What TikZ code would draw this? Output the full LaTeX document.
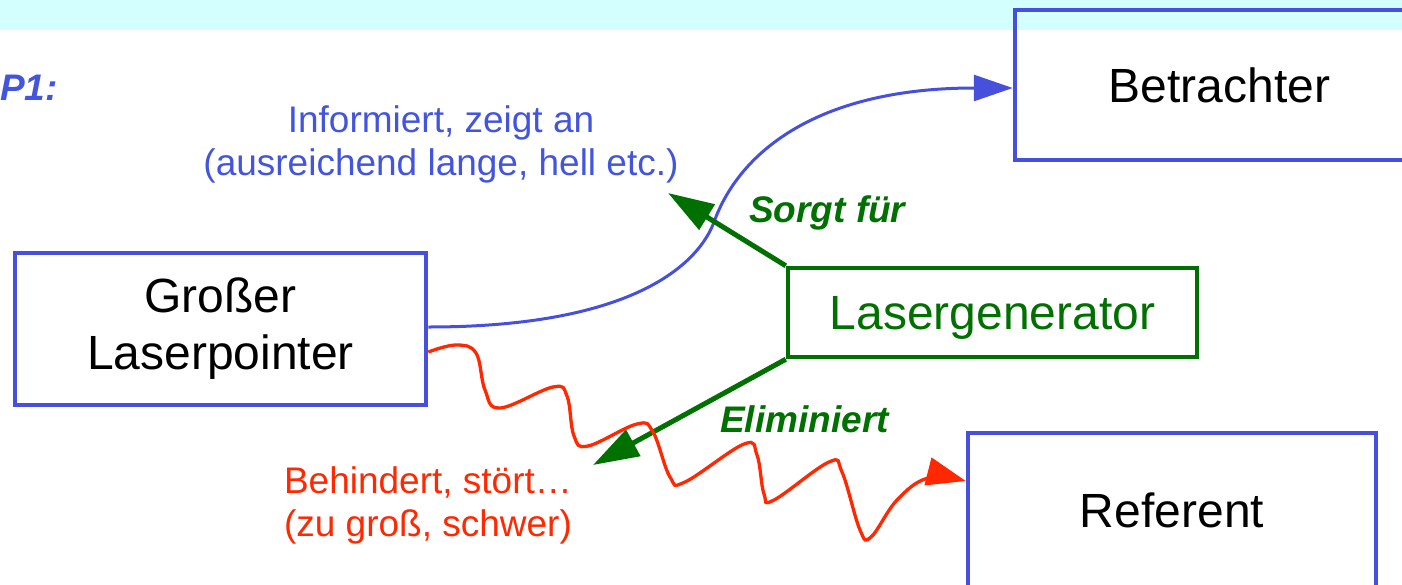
\documentclass[tikz,border=0pt]{standalone}
\usepackage{fontspec}
\setmainfont{Liberation Sans}
\usetikzlibrary{arrows.meta,calc}
\definecolor{bandcyan}{RGB}{212,255,255}
\definecolor{boxblue}{RGB}{70,80,220}
\definecolor{txtblue}{RGB}{68,85,221}
\definecolor{dkgreen}{RGB}{0,112,0}
\definecolor{wavered}{RGB}{255,40,0}
\begin{document}
\begin{tikzpicture}[x=1pt,y=-1pt,
  bluebox/.style={draw=boxblue,line width=4.5pt,inner sep=0pt,align=center,font=\fontsize{48}{57}\selectfont},
  greenbox/.style={draw=dkgreen,line width=4.5pt,inner sep=0pt,text=dkgreen,text depth=0pt,font=\fontsize{48}{57}\selectfont},
  lbl/.style={inner sep=0pt,align=center,font=\fontsize{37}{43}\selectfont},
  tag/.style={inner sep=0pt,text=dkgreen,font=\fontsize{37}{43}\selectfont\bfseries\itshape},
  greenarrow/.style={draw=dkgreen,line width=5pt,-{Triangle[length=46pt,width=29pt]}},
  bluecurve/.style={draw=boxblue,line width=3pt,-{Triangle[length=39pt,width=26pt]}},
  redwave/.style={draw=wavered,line width=3.3pt,-{Triangle[length=39pt,width=28pt]}}
]
\useasboundingbox (0,0) rectangle (1402,584);
\fill[bandcyan] (0,0) rectangle (1402,30);

\node[inner sep=0pt,anchor=base west,text=txtblue,font=\fontsize{37}{43}\selectfont\bfseries\itshape] (p1) at (0,100) {P1:};

\node[bluebox,minimum width=409pt,minimum height=150pt] (betr) at (1219.5,85) {Betrachter};
\node[bluebox,minimum width=411pt,minimum height=152pt] (lp) at (220.5,329) {\raisebox{-2pt}{Großer}\\\raisebox{-2pt}{Laserpointer}};
\node[greenbox,minimum width=409pt,minimum height=89pt] (gen) at (992.5,312.5) {Lasergenerator};
\node[bluebox,minimum width=408pt,minimum height=154pt] (ref) at (1172,510) {Referent};

\node[lbl,text=txtblue] (info) at (441,144) {Informiert, zeigt an\\(ausreichend lange, hell etc.)};
\node[lbl,text=wavered] (beh) at (428,505) {Behindert, stört…\\(zu groß, schwer)};

\node[tag,anchor=base west] (sorgt) at (749,222) {Sorgt für};
\node[tag,anchor=base west] (elim) at (720,432) {Eliminiert};

\coordinate (bmid) at (714,222);
\draw[bluecurve] ($(lp.east)+(0,-2)$) .. controls (640,327) and (700,260) .. (bmid)
  .. controls (740,150) and (820,88) .. ($(betr.west)+(0,3)$);

\coordinate (sorgtip) at (668,193);
\coordinate (elimtip) at (593,465);
\draw[greenarrow] (gen.north west) -- (sorgtip);
\draw[greenarrow] (gen.south west) -- (elimtip);

\coordinate (rs) at ($(lp.east)+(0,23)$);
\coordinate (rt) at ($(ref.west)+(0,-29)$);
\draw[redwave] plot[smooth,tension=0.65] coordinates {(rs) (456,345) (476,353) (485,390) (500,408) (553,387) (567,396) (574,436) (588,446) (637,424) (653,432) (670,477) (685,482) (744,444) (757,455) (764,494) (774,500) (829,462) (842,472) (860,530) (871,537) (897,500) (928,478) (rt)};
\end{tikzpicture}
\end{document}
